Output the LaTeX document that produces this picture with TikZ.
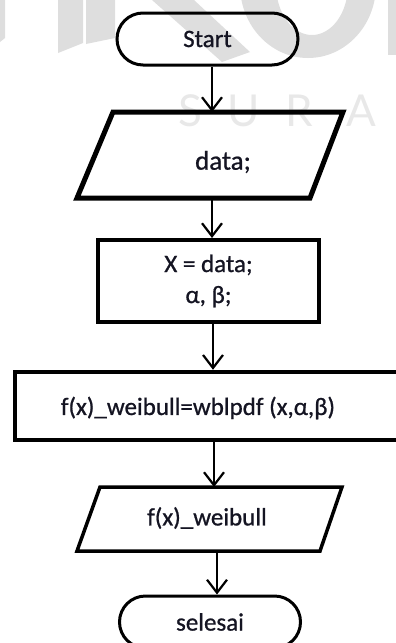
\documentclass[tikz,border=0pt]{standalone}
\usepackage{fontspec}
\setmainfont{Carlito}[FakeBold=0.8]
\newfontfamily\wmfont{Lato}
\usetikzlibrary{arrows.meta}

\definecolor{inkc}{RGB}{20,20,34}
\definecolor{wmgray}{RGB}{222,222,222}
\definecolor{wmlight}{RGB}{232,232,232}

\tikzset{
  txt/.style={text=inkc, font=\fontsize{25}{31}\selectfont, inner sep=0pt, align=center},
  terminal/.style={draw=black, line width=3pt, rounded corners=26pt,
    minimum width=181pt, minimum height=52pt, inner sep=0pt, txt},
  procbox/.style={draw=black, line width=4pt, inner sep=0pt, txt},
  iopath/.style={draw=black, line join=miter},
  arr/.style={draw=black, line width=2.2pt, -{Straight Barb[length=13pt,width=20pt,line width=2.2pt]}},
  wmletter/.style={text=wmlight, font=\wmfont\fontsize{44}{44}\selectfont, inner sep=0pt}
}

\begin{document}
\begin{tikzpicture}[x=1pt, y=-1pt]
\useasboundingbox (0,0) rectangle (396,643);
\clip (0,0) rectangle (396,643);

% faint watermark behind the chart
\fill[wmgray] (0,0) -- (5,0) -- (5,38) -- (0,42) -- cycle;
\fill[wmgray] (58,0) -- (83,0) -- (83,43) -- (58,53) -- cycle;
\fill[wmgray] (86,0) -- (115,0) -- (115,38) -- (86,44) -- cycle;
\fill[wmgray] (152,0) -- (194,0) -- (250,52) -- (222,62) -- cycle;
\fill[wmgray, even odd rule] (308,-15) ellipse [x radius=68, y radius=73]
                             (312,-15) ellipse [x radius=36, y radius=50];
\fill[wmgray] (388,0) rectangle (396,55);
\node[wmletter] (wmS) at (190,111) {S};
\node[wmletter] (wmU) at (244,111) {U};
\node[wmletter] (wmR) at (299,111) {R};
\node[wmletter] (wmA) at (361,111) {A};

% terminals and process boxes
\node[terminal] (start) at (207.5,39) {Start};
\node[procbox, minimum width=221pt, minimum height=82pt] (xbox) at (208.5,281)
  {X = data;\\ α, β;};
\node[procbox, line width=4.5pt, minimum width=410pt, minimum height=68pt] (fx) at (220,406) {};
\node[txt] (fxtext) at (198,408) {f(x)\_weibull=wblpdf (x,α,β)};
\node[terminal] (stop) at (210,622) {selesai};

% input / output parallelograms
\node[txt, font=\fontsize{27}{31}\selectfont] (data) at (223,162) {data;};
\path[iopath, line width=5pt] (113,112) -- (343,112) -- (310,198) -- (77,198) -- cycle;
\coordinate (dataTop) at (212,112);
\coordinate (dataBot) at (212,198);

\node[txt] (fxw) at (207,518) {f(x)\_weibull};
\path[iopath, line width=3.5pt] (100,487) -- (342,487) -- (320,551) -- (77,551) -- cycle;
\coordinate (fxwTop) at (214,487);
\coordinate (fxwBot) at (217,551);

% flow connectors
\coordinate (xTop) at (212,240);
\coordinate (xBot) at (213,322);
\coordinate (fxTop) at (213,372);
\coordinate (fxBot) at (214,440);
\coordinate (stopTop) at (217,596);
\draw[arr] (start.south -| dataTop) -- (dataTop);
\draw[arr] (dataBot) -- (xbox.north -| xTop);
\draw[arr] (xbox.south -| xBot) -- (fx.north -| fxTop);
\draw[arr] (fx.south -| fxBot) -- (fxwTop);
\draw[arr] (fxwBot) -- (stop.north -| stopTop);
\end{tikzpicture}
\end{document}
